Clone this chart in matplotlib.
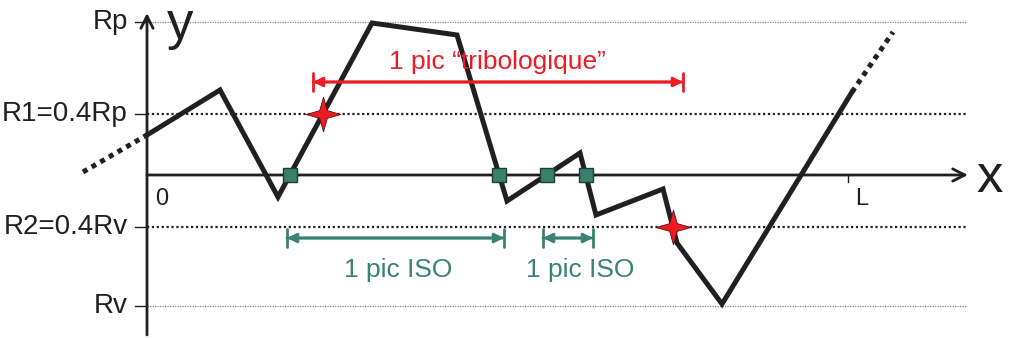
import numpy as np
import matplotlib.pyplot as plt
from matplotlib.path import Path

plt.rcParams['font.family'] = ['Liberation Sans', 'DejaVu Sans']

# hauteurs caractéristiques du profil
RP = 153.0
RV = -131.0
R1 = 0.4 * RP
R2 = 0.4 * RV
L = 701.0

# profil en dents de scie (partie tracée en trait plein)
prof_x = [0, 73, 131, 225, 310, 360, 433, 449, 516, 530, 575, 705]
prof_y = [40, 85, -22, 152, 140, -26, 22, -40, -14, -68, -129, 83]
# prolongements en pointillés de part et d'autre
ext_left_x = [-64, 0]
ext_left_y = [3, 40]
ext_right_x = [705, 746]
ext_right_y = [83, 143]

level_labels = ['Rp', 'R1=0.4Rp', 'R2=0.4Rv', 'Rv']
level_values = [RP, R1, R2, RV]

# flèches de cotation (début, fin, hauteur)
tribo_span = (166, 536, 93)
iso_spans = [(140, 357, -63), (396, 446, -63)]
tribo_label = '1 pic “tribologique”'
iso_label = '1 pic ISO'

RED = '#ED1C24'
GREEN = '#3A8272'
X_END = 820


def crossings(xs, ys, level):
    """Abscisses où le profil coupe l'horizontale y=level."""
    out = []
    for i in range(len(xs) - 1):
        y0, y1 = ys[i] - level, ys[i + 1] - level
        if y0 * y1 < 0:
            t = y0 / (y0 - y1)
            out.append(xs[i] + t * (xs[i + 1] - xs[i]))
    return out


fig = plt.figure(figsize=(10.10, 3.38), dpi=100)
ax = fig.add_axes([0, 0, 1, 1])
ax.set_xlim(-147, 863)
ax.set_ylim(-163, 175)
ax.axis('off')

# lignes de niveau
ax.plot([0, X_END], [RP, RP], color='#888888', lw=0.9, ls=(0, (1, 1)))
ax.plot([0, X_END], [RV, RV], color='#888888', lw=0.9, ls=(0, (1, 1)))
ax.plot([0, X_END], [R1, R1], color='#231f20', lw=1.6, ls=(0, (1, 1.2)))
ax.plot([0, X_END], [R2, R2], color='#231f20', lw=1.6, ls=(0, (1, 1.2)))

# axes
ax.annotate('', xy=(X_END + 1, 0), xytext=(0, 0),
            arrowprops=dict(arrowstyle='->', lw=2, color='#231f20',
                            shrinkA=0, shrinkB=0, mutation_scale=22))
ax.annotate('', xy=(0, 162), xytext=(0, -160),
            arrowprops=dict(arrowstyle='->', lw=2, color='#231f20',
                            shrinkA=0, shrinkB=0, mutation_scale=22))
for lab, val in zip(level_labels, level_values):
    ax.plot([-12, 0], [val, val], color='#231f20', lw=1)
    ax.text(-19, val, lab, ha='right', va='center', fontsize=20, color='#231f20')
ax.plot([L, L], [0, -7], color='#231f20', lw=1)
ax.text(15, -13, '0', ha='center', va='top', fontsize=17, color='#231f20')
ax.text(L + 14, -13, 'L', ha='center', va='top', fontsize=17, color='#231f20')
ax.text(33, 150, 'y', ha='center', va='center', fontsize=38, color='#231f20')
ax.text(843, -3, 'x', ha='center', va='center', fontsize=38, color='#231f20')

# profil
ax.plot(prof_x, prof_y, color='#231f20', lw=3.6, solid_joinstyle='miter', zorder=3)
ax.plot(ext_left_x, ext_left_y, color='#231f20', lw=3.6, ls=(0, (1, 1)), zorder=3)
ax.plot(ext_right_x, ext_right_y, color='#231f20', lw=3.6, ls=(0, (1, 1)), zorder=3)

# points ISO : passages par la ligne moyenne (sans le petit creux initial)
zeros = crossings(prof_x, prof_y, 0)[1:5]
ax.plot(zeros, [0] * len(zeros), ls='none', marker='s', ms=10,
        mfc='#3A7F6F', mec='#1d3d35', mew=1, zorder=4)

# points tribologiques : montée au-dessus de R1, descente sous R2
a = 0.22
star = Path([(0, 1), (a, a), (1, 0), (a, -a), (0, -1), (-a, -a), (-1, 0), (-a, a), (0, 1)],
            [Path.MOVETO] + [Path.LINETO] * 7 + [Path.CLOSEPOLY])
stars_x = [crossings(prof_x, prof_y, R1)[2], crossings(prof_x, prof_y, R2)[0]]
ax.plot(stars_x, [R1, R2], ls='none', marker=star, ms=25,
        mfc=RED, mec='#5a1010', mew=0.6, zorder=5)


def dim_arrow(x0, x1, y, color):
    ax.annotate('', xy=(x1, y), xytext=(x0, y),
                arrowprops=dict(arrowstyle='<|-|>', lw=2, color=color,
                                shrinkA=0, shrinkB=0, mutation_scale=14))
    ax.annotate('', xy=(x1, y), xytext=(x0, y),
                arrowprops=dict(arrowstyle='|-|,widthA=0.45,widthB=0.45', lw=2,
                                color=color, shrinkA=0, shrinkB=0, mutation_scale=14))


dim_arrow(tribo_span[0], tribo_span[1], tribo_span[2], RED)
ax.text(350, 113, tribo_label, ha='center', va='center', fontsize=19, color=RED)
for x0, x1, y in iso_spans:
    dim_arrow(x0, x1, y, GREEN)
ax.text(251, -95, iso_label, ha='center', va='center', fontsize=19, color=GREEN)
ax.text(433, -95, iso_label, ha='center', va='center', fontsize=19, color=GREEN)

fig.savefig('out.png', dpi=100)
